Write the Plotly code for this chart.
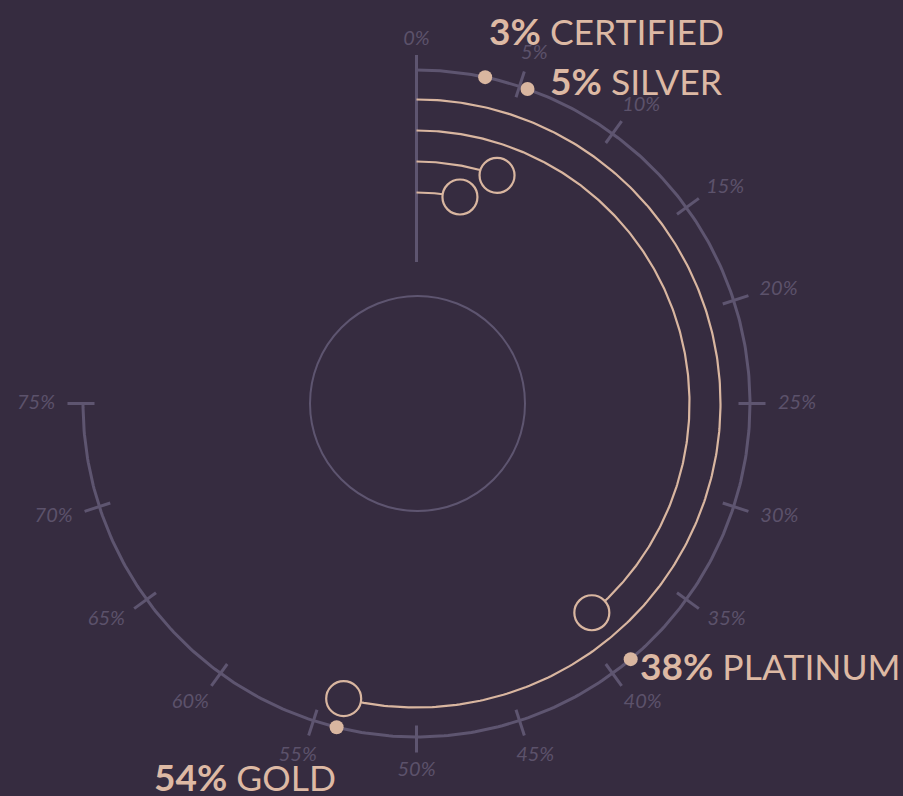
import numpy as np
import plotly.graph_objects as go

# ---- data ----
categories = ["CERTIFIED", "SILVER", "PLATINUM", "GOLD"]
values = [3.3, 5.4, 38.9, 53.85]          # position on the 0-100 % dial
value_labels = ["3%", "5%", "38%", "54%"]
tick_values = list(range(0, 80, 5))
tick_labels = [f"{v}%" for v in tick_values]
scale_max = 75

# ---- style ----
BG = "#362C40"
SCALE = "#5E5570"
TICKTXT = "#5C526B"
PEACH = "#D9B6A0"
TEXT = "#DDB9A4"
FONT = "Lato"

CX, CY = 416.5, 403.5          # pixel center (used to set axis ranges)
R_SCALE = 333.5
R_ARCS = [211, 242, 273, 304]  # radius of each category's arc
R_INNER = 107.5
R_AXIS = (141.5, 348.5)
R_TICK = (322, 349)

# label offsets (xanchor, yanchor, xshift, yshift) relative to dot
LABEL_POS = [("left", "middle", 2, 47), ("left", "middle", 20, 9),
             ("left", "middle", 7, -6), ("right", "middle", 1, -49)]

W, H = 903, 796


def pol(r, pct):
    th = np.radians(np.asarray(pct, dtype=float) * 3.6)
    return r * np.sin(th), r * np.cos(th)


fig = go.Figure()

# inner circle
fig.add_shape(type="circle", x0=-R_INNER + 1, x1=R_INNER + 1, y0=-R_INNER, y1=R_INNER,
              line=dict(color=SCALE, width=2), layer="below")

# vertical 0% axis
ax_x, ax_y = pol(np.array(R_AXIS), [0, 0])
fig.add_trace(go.Scatter(x=ax_x, y=ax_y, mode="lines",
                         line=dict(color=SCALE, width=3), hoverinfo="skip"))

# scale arc
t = np.linspace(0, scale_max, 400)
sx, sy = pol(R_SCALE, t)
fig.add_trace(go.Scatter(x=sx, y=sy, mode="lines",
                         line=dict(color=SCALE, width=3), hoverinfo="skip"))

# ticks
tx, ty = [], []
for v in tick_values[1:]:
    a, b = pol(np.array(R_TICK), [v, v])
    tx += list(a) + [None]
    ty += list(b) + [None]
fig.add_trace(go.Scatter(x=tx, y=ty, mode="lines",
                         line=dict(color=SCALE, width=3), hoverinfo="skip"))

# tick labels
lx, ly = [], []
for v in tick_values:
    th = np.radians(v * 3.6)
    r = 364 + 15 * abs(np.sin(th)) + 1.5 * (1 - np.cos(th))
    a, b = pol(r, v + 0.3 * np.sin(2 * th))
    lx.append(a)
    ly.append(b)
fig.add_trace(go.Scatter(x=lx, y=ly, mode="text", text=tick_labels,
                         textposition="middle center",
                         textfont=dict(family=FONT, size=20, color=TICKTXT, style="italic"),
                         hoverinfo="skip"))

# value arcs
for v, r in zip(values, R_ARCS):
    tt = np.linspace(0, v, 300)
    x, y = pol(r, tt)
    fig.add_trace(go.Scatter(x=x, y=y, mode="lines",
                             line=dict(color=PEACH, width=2.2), hoverinfo="skip"))

# end rings
rx, ry = [], []
for v, r in zip(values, R_ARCS):
    a, b = pol(r, v)
    rx.append(a)
    ry.append(b)
fig.add_trace(go.Scatter(x=rx, y=ry, mode="markers",
                         marker=dict(size=35, color=BG, line=dict(color=PEACH, width=2.2)),
                         hoverinfo="skip"))

# dots on scale
dx, dy = pol(R_SCALE, values)
fig.add_trace(go.Scatter(x=dx, y=dy, mode="markers",
                         marker=dict(size=14, color=PEACH), hoverinfo="skip"))

# labels
for i, (cat, vl) in enumerate(zip(categories, value_labels)):
    xa, ya, xs, ys = LABEL_POS[i]
    fig.add_annotation(x=dx[i], y=dy[i], xref="x", yref="y",
                       text=f'<span style="font-size:37px"><b>{vl}</b></span> {cat}',
                       showarrow=False,
                       xanchor=xa, yanchor=ya, xshift=xs, yshift=ys,
                       font=dict(family=FONT, size=35.5, color=TEXT))

fig.update_layout(
    width=W, height=H, margin=dict(l=0, r=0, t=0, b=0),
    paper_bgcolor=BG, plot_bgcolor=BG, showlegend=False,
    xaxis=dict(range=[-CX, W - CX], visible=False, fixedrange=True),
    yaxis=dict(range=[-(H - CY), CY], visible=False, fixedrange=True),
    hovermode=False,
)

fig.write_html("out.html")
